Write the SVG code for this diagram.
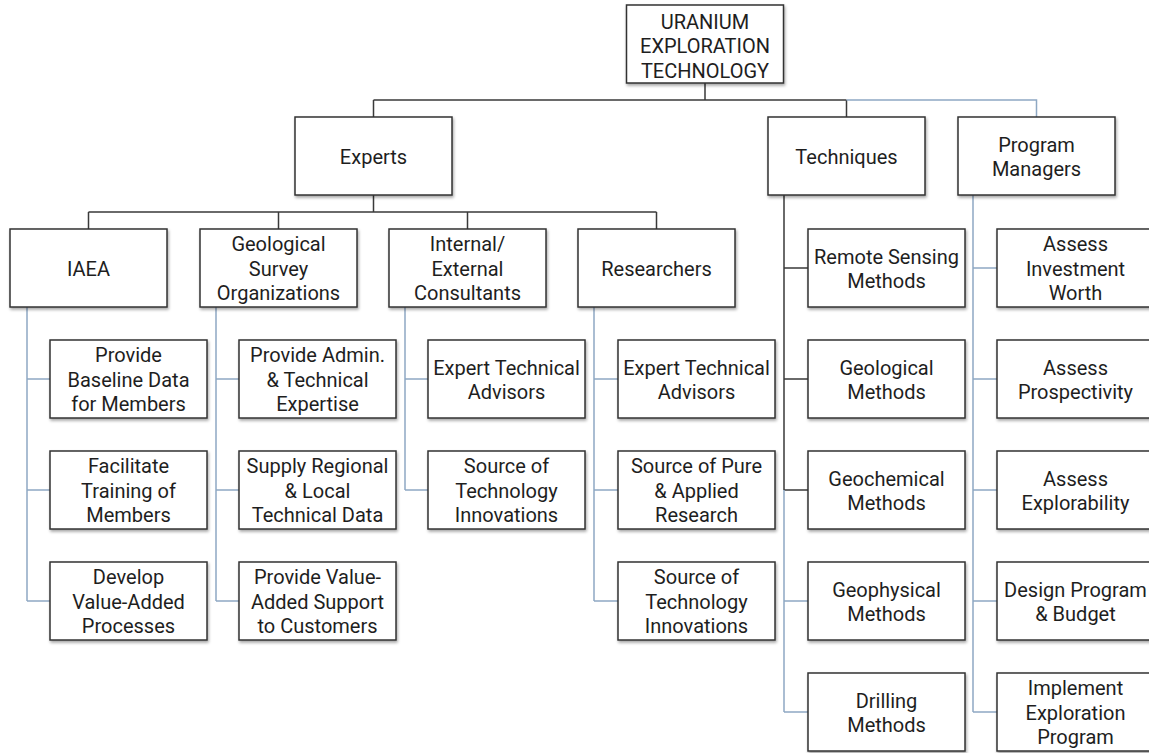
<svg xmlns="http://www.w3.org/2000/svg" width="1149" height="753" viewBox="0 0 1149 753">
  <defs>
    <filter id="shadow" x="-10%" y="-10%" width="130%" height="140%">
      <feDropShadow dx="1" dy="2" stdDeviation="1.5" flood-color="#000" flood-opacity="0.35"/>
    </filter>
  </defs>
  <style>
    .box { fill: #ffffff; stroke: #333333; stroke-width: 1.5; filter: url(#shadow); }
    .lbl { font-family: Roboto, "Liberation Sans", sans-serif; font-size: 20px; fill: #1e1e1e; text-anchor: middle; }
    .dark { fill: none; stroke: #3a3a3a; stroke-width: 1.5; }
    .blue { fill: none; stroke: #8ea8c3; stroke-width: 1.5; }
  </style>
  <rect width="1149" height="753" fill="#ffffff"/>

  <!-- connectors -->
  <g id="connectors">
    <path class="dark" d="M705,83 V100 M373.5,100 H846.5 M373.5,100 V117 M846.5,100 V117"/>
    <path class="dark" d="M373.5,195 V212 M88.5,212 H656.5 M88.5,212 V229 M278.5,212 V229 M467.5,212 V229 M656.5,212 V229"/>
    <path class="dark" d="M784,195 V490 M784,268 H808 M784,379 H808 M784,490 H808"/>
    <path class="blue" d="M846.5,100 H1036.5 V117"/>
    <path class="blue" d="M27,307 V601 M27,379 H50 M27,490 H50 M27,601 H50"/>
    <path class="blue" d="M216,307 V601 M216,379 H239 M216,490 H239 M216,601 H239"/>
    <path class="blue" d="M405,307 V490 M405,379 H428 M405,490 H428"/>
    <path class="blue" d="M594,307 V601 M594,379 H618 M594,490 H618 M594,601 H618"/>
    <path class="blue" d="M784,490 V712 M784,601 H808 M784,712 H808"/>
    <path class="blue" d="M973,195 V712 M973,268 H997 M973,379 H997 M973,490 H997 M973,601 H997 M973,712 H997"/>
  </g>

  <!-- root -->
  <g id="root">
    <rect class="box" x="626.5" y="5" width="157" height="78"/>
    <text class="lbl"><tspan x="705" y="28.5">URANIUM</tspan><tspan x="705" y="53">EXPLORATION</tspan><tspan x="705" y="77.5">TECHNOLOGY</tspan></text>
  </g>

  <!-- first level -->
  <g id="experts">
    <rect class="box" x="295" y="117" width="157" height="78"/>
    <text class="lbl"><tspan x="373.5" y="163.5">Experts</tspan></text>
  </g>
  <g id="techniques">
    <rect class="box" x="768" y="117" width="157" height="78"/>
    <text class="lbl"><tspan x="846.5" y="163.5">Techniques</tspan></text>
  </g>
  <g id="program-managers">
    <rect class="box" x="958" y="117" width="157" height="78"/>
    <text class="lbl"><tspan x="1036.5" y="151.5">Program</tspan><tspan x="1036.5" y="176">Managers</tspan></text>
  </g>

  <!-- expert groups -->
  <g id="iaea">
    <rect class="box" x="10" y="229" width="157" height="78"/>
    <text class="lbl"><tspan x="88.5" y="275.5">IAEA</tspan></text>
  </g>
  <g id="geological-survey">
    <rect class="box" x="200" y="229" width="157" height="78"/>
    <text class="lbl"><tspan x="278.5" y="251">Geological</tspan><tspan x="278.5" y="275.5">Survey</tspan><tspan x="278.5" y="300">Organizations</tspan></text>
  </g>
  <g id="consultants">
    <rect class="box" x="389" y="229" width="157" height="78"/>
    <text class="lbl"><tspan x="467.5" y="251">Internal/</tspan><tspan x="467.5" y="275.5">External</tspan><tspan x="467.5" y="300">Consultants</tspan></text>
  </g>
  <g id="researchers">
    <rect class="box" x="578" y="229" width="157" height="78"/>
    <text class="lbl"><tspan x="656.5" y="275.5">Researchers</tspan></text>
  </g>

  <!-- IAEA roles -->
  <g id="iaea-baseline">
    <rect class="box" x="50" y="340" width="157" height="78"/>
    <text class="lbl"><tspan x="128.5" y="362">Provide</tspan><tspan x="128.5" y="386.5">Baseline Data</tspan><tspan x="128.5" y="411">for Members</tspan></text>
  </g>
  <g id="iaea-training">
    <rect class="box" x="50" y="451" width="157" height="78"/>
    <text class="lbl"><tspan x="128.5" y="473">Facilitate</tspan><tspan x="128.5" y="497.5">Training of</tspan><tspan x="128.5" y="522">Members</tspan></text>
  </g>
  <g id="iaea-processes">
    <rect class="box" x="50" y="562" width="157" height="78"/>
    <text class="lbl"><tspan x="128.5" y="584">Develop</tspan><tspan x="128.5" y="608.5">Value-Added</tspan><tspan x="128.5" y="633">Processes</tspan></text>
  </g>

  <!-- survey roles -->
  <g id="gso-expertise">
    <rect class="box" x="239" y="340" width="157" height="78"/>
    <text class="lbl"><tspan x="317.5" y="362">Provide Admin.</tspan><tspan x="317.5" y="386.5">&amp; Technical</tspan><tspan x="317.5" y="411">Expertise</tspan></text>
  </g>
  <g id="gso-data">
    <rect class="box" x="239" y="451" width="157" height="78"/>
    <text class="lbl"><tspan x="317.5" y="473">Supply Regional</tspan><tspan x="317.5" y="497.5">&amp; Local</tspan><tspan x="317.5" y="522">Technical Data</tspan></text>
  </g>
  <g id="gso-support">
    <rect class="box" x="239" y="562" width="157" height="78"/>
    <text class="lbl"><tspan x="317.5" y="584">Provide Value-</tspan><tspan x="317.5" y="608.5">Added Support</tspan><tspan x="317.5" y="633">to Customers</tspan></text>
  </g>

  <!-- consultant roles -->
  <g id="con-advisors">
    <rect class="box" x="428" y="340" width="157" height="78"/>
    <text class="lbl"><tspan x="506.5" y="374.5">Expert Technical</tspan><tspan x="506.5" y="399">Advisors</tspan></text>
  </g>
  <g id="con-innovations">
    <rect class="box" x="428" y="451" width="157" height="78"/>
    <text class="lbl"><tspan x="506.5" y="473">Source of</tspan><tspan x="506.5" y="497.5">Technology</tspan><tspan x="506.5" y="522">Innovations</tspan></text>
  </g>

  <!-- researcher roles -->
  <g id="res-advisors">
    <rect class="box" x="618" y="340" width="157" height="78"/>
    <text class="lbl"><tspan x="696.5" y="374.5">Expert Technical</tspan><tspan x="696.5" y="399">Advisors</tspan></text>
  </g>
  <g id="res-research">
    <rect class="box" x="618" y="451" width="157" height="78"/>
    <text class="lbl"><tspan x="696.5" y="473">Source of Pure</tspan><tspan x="696.5" y="497.5">&amp; Applied</tspan><tspan x="696.5" y="522">Research</tspan></text>
  </g>
  <g id="res-innovations">
    <rect class="box" x="618" y="562" width="157" height="78"/>
    <text class="lbl"><tspan x="696.5" y="584">Source of</tspan><tspan x="696.5" y="608.5">Technology</tspan><tspan x="696.5" y="633">Innovations</tspan></text>
  </g>

  <!-- techniques -->
  <g id="tech-remote">
    <rect class="box" x="808" y="229" width="157" height="78"/>
    <text class="lbl"><tspan x="886.5" y="263.5">Remote Sensing</tspan><tspan x="886.5" y="288">Methods</tspan></text>
  </g>
  <g id="tech-geological">
    <rect class="box" x="808" y="340" width="157" height="78"/>
    <text class="lbl"><tspan x="886.5" y="374.5">Geological</tspan><tspan x="886.5" y="399">Methods</tspan></text>
  </g>
  <g id="tech-geochemical">
    <rect class="box" x="808" y="451" width="157" height="78"/>
    <text class="lbl"><tspan x="886.5" y="485.5">Geochemical</tspan><tspan x="886.5" y="510">Methods</tspan></text>
  </g>
  <g id="tech-geophysical">
    <rect class="box" x="808" y="562" width="157" height="78"/>
    <text class="lbl"><tspan x="886.5" y="596.5">Geophysical</tspan><tspan x="886.5" y="621">Methods</tspan></text>
  </g>
  <g id="tech-drilling">
    <rect class="box" x="808" y="673" width="157" height="78"/>
    <text class="lbl"><tspan x="886.5" y="707.5">Drilling</tspan><tspan x="886.5" y="732">Methods</tspan></text>
  </g>

  <!-- program manager tasks -->
  <g id="pm-investment">
    <rect class="box" x="997" y="229" width="157" height="78"/>
    <text class="lbl"><tspan x="1075.5" y="251">Assess</tspan><tspan x="1075.5" y="275.5">Investment</tspan><tspan x="1075.5" y="300">Worth</tspan></text>
  </g>
  <g id="pm-prospectivity">
    <rect class="box" x="997" y="340" width="157" height="78"/>
    <text class="lbl"><tspan x="1075.5" y="374.5">Assess</tspan><tspan x="1075.5" y="399">Prospectivity</tspan></text>
  </g>
  <g id="pm-explorability">
    <rect class="box" x="997" y="451" width="157" height="78"/>
    <text class="lbl"><tspan x="1075.5" y="485.5">Assess</tspan><tspan x="1075.5" y="510">Explorability</tspan></text>
  </g>
  <g id="pm-budget">
    <rect class="box" x="997" y="562" width="157" height="78"/>
    <text class="lbl"><tspan x="1075.5" y="596.5">Design Program</tspan><tspan x="1075.5" y="621">&amp; Budget</tspan></text>
  </g>
  <g id="pm-implement">
    <rect class="box" x="997" y="673" width="157" height="78"/>
    <text class="lbl"><tspan x="1075.5" y="695">Implement</tspan><tspan x="1075.5" y="719.5">Exploration</tspan><tspan x="1075.5" y="744">Program</tspan></text>
  </g>
</svg>
